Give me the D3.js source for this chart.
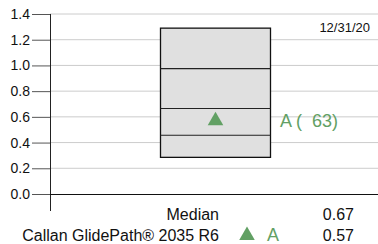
<!DOCTYPE html>
<html>
<head>
<meta charset="utf-8">
<script src="https://cdn.jsdelivr.net/npm/d3@7"></script>
<style>
  body { margin: 0; background: #fff; }
  svg { display: block; font-family: "Liberation Sans", Arial, sans-serif; }
</style>
</head>
<body>
<div id="chart"></div>
<script>
// box percentiles (top to bottom)
const boxValues = [1.29, 0.975, 0.665, 0.457, 0.285];
const yTicks = [0.0, 0.2, 0.4, 0.6, 0.8, 1.0, 1.2, 1.4];
const seriesNames = ["Callan GlidePath® 2035 R6"];
const seriesValues = [0.57];
const seriesRanks = [63];
const seriesLetters = ["A"];
const medianValue = 0.67;
const dateLabel = "12/31/20";

const W = 378, H = 244;
const green = "#62a064";

const svg = d3.select("#chart").append("svg")
  .attr("width", W).attr("height", H);

const y = d3.scaleLinear().domain([0, 1.4]).range([194, 14]);
const boxX0 = 160.5, boxX1 = 270.5;

// grid
svg.append("g")
  .selectAll("line")
  .data(yTicks.filter(d => d > 0))
  .join("line")
  .attr("x1", 50).attr("x2", W)
  .attr("y1", d => y(d)).attr("y2", d => y(d))
  .attr("stroke", "#cccccc").attr("stroke-width", 1);

// y axis
const yAxis = svg.append("g")
  .attr("transform", "translate(50,0)")
  .call(d3.axisLeft(y).tickValues(yTicks).tickFormat(d3.format(".1f")).tickSize(18).tickSizeOuter(0));
yAxis.select(".domain").remove();
yAxis.selectAll(".tick line").attr("stroke", "#555");
yAxis.selectAll(".tick text")
  .attr("x", -20)
  .style("font-size", "14px")
  .attr("fill", "#111");

svg.append("line")
  .attr("x1", 50.5).attr("x2", 50.5)
  .attr("y1", y(1.4)).attr("y2", 211)
  .attr("stroke", "#222");

// zero line
svg.append("line")
  .attr("x1", 50).attr("x2", W)
  .attr("y1", y(0) + 0.5).attr("y2", y(0) + 0.5)
  .attr("stroke", "#111");

// box
svg.append("rect")
  .attr("x", boxX0).attr("y", y(boxValues[0]))
  .attr("width", boxX1 - boxX0)
  .attr("height", y(boxValues[4]) - y(boxValues[0]))
  .attr("fill", "#e0e0e0")
  .attr("stroke", "#111").attr("stroke-width", 1.3);

svg.append("g")
  .selectAll("line")
  .data(boxValues.slice(1, 4))
  .join("line")
  .attr("x1", boxX0).attr("x2", boxX1)
  .attr("y1", d => y(d)).attr("y2", d => y(d))
  .attr("stroke", "#222").attr("stroke-width", 1.2);

// marker
const tri = d3.symbol().type(d3.symbolTriangle).size(105);
const cx = (boxX0 + boxX1) / 2;
svg.selectAll(".mark")
  .data(seriesValues)
  .join("path")
  .attr("class", "mark")
  .attr("d", tri)
  .attr("transform", d => `translate(${cx},${y(d)})`)
  .attr("fill", green);

svg.selectAll(".mark-label")
  .data(seriesValues)
  .join("text")
  .attr("class", "mark-label")
  .attr("x", 280)
  .attr("y", d => y(d) + 6.5)
  .attr("fill", green)
  .style("font-size", "18px")
  .style("white-space", "pre")
  .attr("xml:space", "preserve")
  .text((d, i) => `${seriesLetters[i]} (  ${seriesRanks[i]})`);

// date
svg.append("text")
  .attr("x", 370).attr("y", 32)
  .attr("text-anchor", "end")
  .style("font-size", "13px")
  .attr("fill", "#111")
  .text(dateLabel);

// table below
svg.append("text")
  .attr("x", 219).attr("y", 219.5)
  .attr("text-anchor", "end")
  .style("font-size", "16px").attr("fill", "#111")
  .text("Median");
svg.append("text")
  .attr("x", 354).attr("y", 219.5)
  .attr("text-anchor", "end")
  .style("font-size", "16px").attr("fill", "#111")
  .text(medianValue.toFixed(2));

seriesNames.forEach((name, i) => {
  const by = 241 + i * 21;
  svg.append("text")
    .attr("x", 219).attr("y", by)
    .attr("text-anchor", "end")
    .style("font-size", "16px").attr("fill", "#111")
    .text(name);
  svg.append("path")
    .attr("d", tri)
    .attr("transform", `translate(247,${by - 5.5})`)
    .attr("fill", green);
  svg.append("text")
    .attr("x", 267).attr("y", by)
    .style("font-size", "18px").attr("fill", green)
    .text(seriesLetters[i]);
  svg.append("text")
    .attr("x", 354).attr("y", by)
    .attr("text-anchor", "end")
    .style("font-size", "16px").attr("fill", "#111")
    .text(seriesValues[i].toFixed(2));
});
</script>
</body>
</html>
